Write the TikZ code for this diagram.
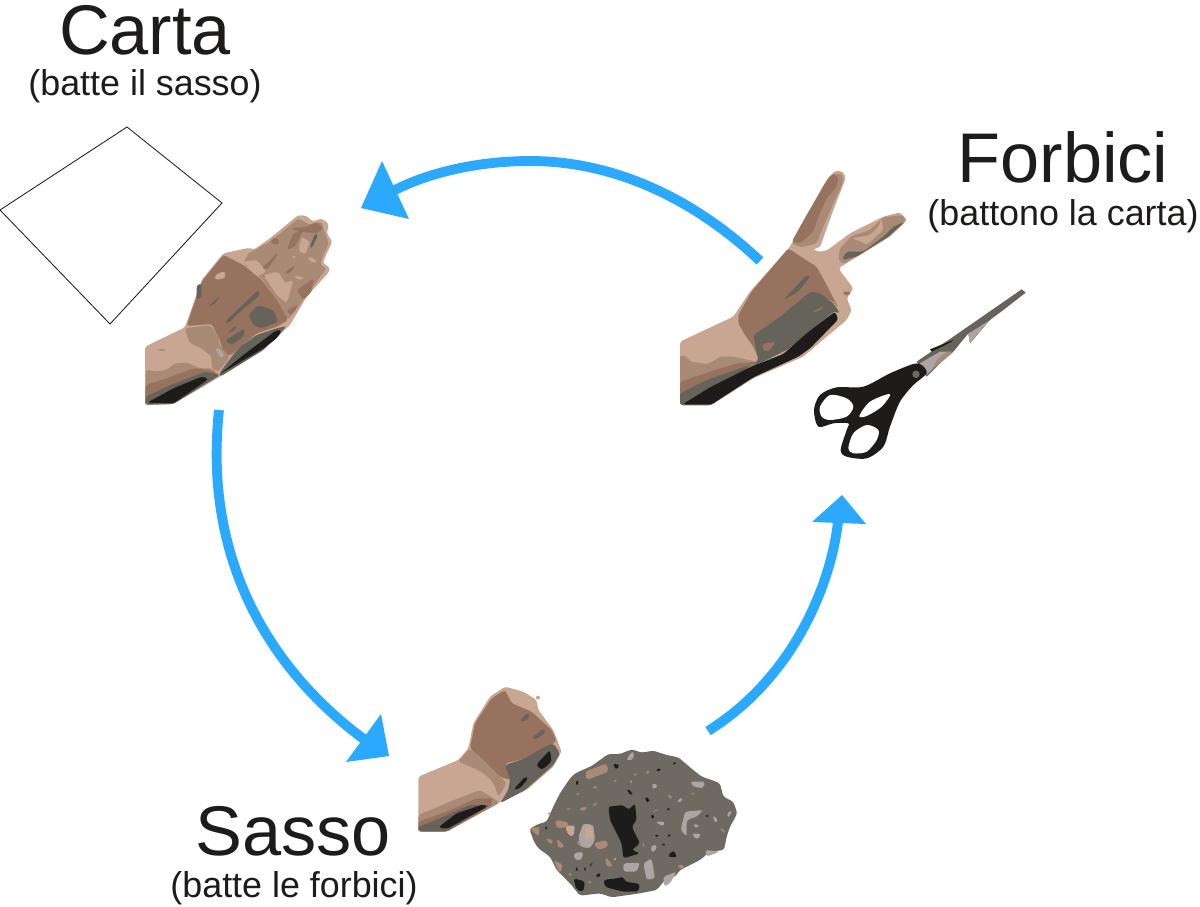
\documentclass[tikz,border=0pt]{standalone}
\usepackage{fontspec}
\setmainfont{Liberation Sans}
\definecolor{skinL}{HTML}{C9A692}
\definecolor{skinM}{HTML}{A98A76}
\definecolor{skinD}{HTML}{97735F}
\definecolor{greyD}{HTML}{66635A}
\definecolor{blackD}{HTML}{1D1C1A}
\definecolor{stoneG}{HTML}{6E6A61}
\definecolor{paleG}{HTML}{ACA5A4}
\definecolor{cycleB}{HTML}{2AA9FF}
\newcommand\blob[2]{\fill[#1] plot[smooth cycle,tension=.5] coordinates {#2};}
\newcommand\poly[2]{\fill[#1,rounded corners=2pt] plot[sharp cycle] coordinates {#2};}
\tikzset{
  titletext/.style={font=\fontsize{50}{50}\selectfont,text=blackD,inner sep=0pt,anchor=center},
  subtext/.style={font=\fontsize{25.5}{26}\selectfont,text=blackD,inner sep=0pt,anchor=center},
  cycleshaft/.style={draw=cycleB,line width=7pt},
  cyclehead/.style={fill=cycleB},
  paper/.style={draw=blackD,line width=0.6pt,fill=white,line join=miter}
}
\begin{document}
\begin{tikzpicture}[x=0.025cm,y=-0.025cm]
\useasboundingbox (0,0) rectangle (1200,906);

% texts
\node[titletext] (carta) at (145,30) {Carta};
\node[subtext] (cartasub) at (145,86) {(batte il sasso)};
\node[titletext] (forbici) at (1063,157) {Forbici};
\node[subtext] (forbicisub) at (1063,216) {(battono la carta)};
\node[titletext] (sasso) at (293,831) {Sasso};
\node[subtext] (sassosub) at (294,888) {(batte le forbici)};

% paper
\draw[paper] (127,127) coordinate (p1) -- (222,203) coordinate (p2) -- (110,324) coordinate (p3) -- (0,210) coordinate (p4) -- cycle;

% connectors
\coordinate (a1s) at (760,261);
\coordinate (a1m) at (530,161);
\coordinate (a1b) at (395,190);
\coordinate (a1x) at (382,161);
\coordinate (a1y) at (409,219);
\coordinate (a1t) at (361,208);
\coordinate (a2s) at (219,410);
\coordinate (a2b) at (365,740);
\coordinate (a2x) at (381,714);
\coordinate (a2y) at (346,762);
\coordinate (a2t) at (389,756);
\coordinate (a3s) at (708,731);
\coordinate (a3b) at (838,522);
\coordinate (a3x) at (812,522);
\coordinate (a3y) at (866,524);
\coordinate (a3t) at (842,495);
\draw[cycleshaft] (a1s) .. controls (690,195) and (610,161) .. (a1m) .. controls (480,161) and (430,172) .. (a1b);
\fill[cyclehead] (a1x) -- (a1t) -- (a1y) -- cycle;
\draw[cycleshaft] (a2s) .. controls (203,560) and (270,670) .. (a2b);
\fill[cyclehead] (a2x) -- (a2t) -- (a2y) -- cycle;
\draw[cycleshaft] (a3s) .. controls (790,680) and (830,590) .. (a3b);
\fill[cyclehead] (a3x) -- (a3t) -- (a3y) -- cycle;

% open hand
\begin{scope}[shift={(130,200)},scale=1/3]
\poly{skinL}{(45,440)(165,382)(215,240)(280,160)(360,143)(370,150)(420,115)(505,45)(530,48)(548,65)(575,55)(597,72)(590,100)(607,125)(588,165)(578,190)(598,200)(598,215)(530,290)(480,375)(400,450)(270,530)(130,612)(45,615)}
\poly{skinM}{(355,160)(420,125)(505,55)(540,75)(575,65)(585,100)(597,128)(578,170)(570,195)(590,205)(530,285)(475,360)(440,300)(395,235)(340,190)}
\poly{skinD}{(170,378)(215,245)(280,165)(300,175)(340,195)(395,240)(440,300)(475,360)(440,380)(380,400)(330,440)(305,465)(280,465)(270,420)(245,372)}
\poly{skinM}{(165,385)(240,375)(265,410)(270,440)(300,470)(265,515)(245,505)(245,470)(215,445)(180,430)(170,405)}
\poly{skinL}{(340,185)(380,180)(410,215)(380,230)}
\poly{skinL}{(400,225)(445,215)(465,250)(490,240)(470,310)(440,285)}
\poly{skinL}{(515,110)(540,125)(525,165)(505,150)}
\poly{skinL}{(535,170)(560,180)(555,190)(535,180)}
\poly{skinL}{(490,225)(525,235)(505,240)}
\poly{skinL}{(485,165)(500,170)(490,178)}
\poly{skinD}{(480,85)(530,80)(560,65)(580,85)(560,100)(510,95)}
\poly{skinD}{(420,120)(440,110)(450,130)(430,135)}
\poly{skinD}{(490,100)(520,90)(495,140)(470,150)}
\poly{skinD}{(500,270)(550,235)(545,275)(520,300)}
\poly{skinD}{(470,330)(505,315)(490,340)(475,345)}
\poly{skinD}{(395,205)(445,155)(440,170)(410,210)}
\poly{skinD}{(465,215)(495,195)(490,210)(470,225)}
\poly{greyD}{(555,100)(565,105)(545,145)(540,140)}
\poly{greyD}{(285,365)(385,270)(390,285)(330,335)(295,370)}
\poly{greyD}{(235,320)(270,288)(255,312)}
\poly{greyD}{(355,345)(385,315)(430,330)(445,365)(395,385)(370,375)}
\poly{greyD}{(290,400)(320,375)(315,390)}
\poly{greyD}{(285,422)(345,385)(340,410)(305,435)}
\poly{greyD}{(200,255)(215,250)(215,290)(200,300)}
\poly{skinL}{(255,225)(285,212)(285,235)(255,240)}
\poly{paleG}{(255,445)(270,445)(285,470)(270,475)}
\poly{skinM}{(48,510)(60,510)(70,515)(110,510)(135,490)(170,488)(210,505)(245,505)(260,520)(130,612)(45,615)}
\poly{skinD}{(48,555)(110,535)(190,505)(240,510)(270,525)(130,610)(45,615)}
\poly{greyD}{(48,590)(110,560)(225,515)(270,525)(130,612)(48,612)}
\poly{greyD}{(305,470)(330,440)(380,405)(440,385)(470,378)(400,450)(270,530)(268,520)}
\poly{blackD}{(52,608)(130,565)(215,530)(235,535)(225,545)(130,610)}
\poly{blackD}{(270,522)(340,465)(440,390)(456,392)(440,415)(400,445)(290,510)}
\poly{skinM}{(85,448)(105,445)(105,453)(85,453)}
\end{scope}

% V hand
\begin{scope}[shift={(670,160)},scale=1/3]
\poly{skinL}{(30,545)(190,470)(240,395)(360,260)(420,150)(470,60)(495,32)(520,35)(527,55)(490,150)(450,262)(428,268)(445,275)(470,272)(540,220)(640,170)(690,157)(712,180)(660,230)(505,325)(520,345)(550,385)(530,415)(545,450)(530,480)(470,530)(400,590)(250,655)(125,735)(30,735)}
\poly{skinM}{(365,250)(420,150)(480,45)(515,40)(520,65)(490,130)(460,200)(440,250)(395,262)}
\poly{skinD}{(365,245)(410,165)(465,70)(490,40)(505,50)(500,80)(470,115)(445,170)(430,215)(390,250)}
\poly{skinM}{(505,300)(510,265)(545,228)(600,210)(640,172)(695,165)(708,180)(655,228)(520,312)}
\poly{skinL}{(545,235)(600,225)(625,200)(635,175)(640,210)(590,255)(575,245)}
\poly{greyD}{(515,300)(530,275)(580,275)(640,230)(670,200)(705,185)(655,230)(560,290)}
\poly{skinD}{(205,465)(245,395)(355,265)(385,285)(440,320)(470,375)(505,445)(490,425)(420,395)(330,470)(250,525)(265,595)(250,560)(225,525)(205,490)}
\poly{greyD}{(250,525)(330,470)(420,395)(450,400)(490,430)(510,460)(490,455)(410,525)(350,570)(240,625)(265,600)}
\poly{greyD}{(340,420)(410,345)(420,350)(385,395)}
\poly{skinD}{(335,340)(350,345)(340,352)}
\poly{skinD}{(275,552)(318,545)(295,575)(280,572)}
\poly{skinD}{(425,455)(465,437)(445,455)}
\poly{skinD}{(515,395)(545,395)(530,410)}
\poly{skinM}{(30,585)(50,590)(60,605)(115,612)(150,590)(190,590)(235,600)(262,605)(200,630)(125,735)(30,735)}
\poly{skinD}{(30,665)(120,635)(200,610)(262,605)(240,630)(125,735)(30,735)}
\poly{greyD}{(30,700)(110,660)(240,615)(125,735)(30,735)}
\poly{blackD}{(38,733)(120,682)(240,622)(340,582)(410,520)(495,455)(505,478)(420,565)(385,590)(250,652)(125,733)}
\end{scope}

% scissors
\begin{scope}[shift={(670,160)},scale=1/3]
\fill[greyD] (740,605) -- (850,530) -- (1055,388) -- (1067,398) -- (1000,450) -- (960,480) -- (900,550) -- (895,520) -- (850,575) -- (820,600) -- (770,650) -- cycle;
\fill[paleG] (750,610) -- (810,575) -- (845,575) -- (815,600) -- (770,645) -- cycle;
\fill[skinM] (800,600) -- (830,575) -- (848,578) -- (810,610) -- (785,630) -- cycle;
\fill[paleG] (905,515) -- (960,480) -- (900,548) -- (895,520) -- cycle;
\fill[blackD] (780,568) -- (850,540) -- (845,545) -- (785,575) -- cycle;
\blob{blackD}{(730,612)(755,615)(770,640)(730,675)(690,725)(660,800)(640,860)(590,895)(530,890)(512,870)(530,810)(535,790)(490,790)(445,800)(432,750)(450,705)(500,682)(580,680)(660,640)}
\blob{white}{(450,740)(480,705)(530,715)(550,740)(530,770)(480,780)(455,770)}
\blob{white}{(535,865)(550,820)(590,795)(625,810)(620,840)(590,875)(550,880)}
\blob{white}{(568,768)(600,725)(660,702)(635,740)(590,768)}
\fill[stoneG] (738,643) circle (11);
\end{scope}

% fist
\begin{scope}[shift={(410,680)},scale=1/3]
\poly{skinL}{(25,290)(145,240)(175,205)(190,130)(240,50)(285,20)(340,35)(380,60)(385,90)(430,150)(455,215)(430,260)(350,330)(250,375)(110,455)(25,455)}
\fill[skinL] (384,53) circle (6);
\poly{skinD}{(180,205)(195,130)(245,55)(285,30)(305,70)(365,95)(425,150)(440,185)(410,200)(345,235)(285,250)(300,300)(270,290)(245,265)(215,235)}
\poly{skinM}{(145,245)(180,205)(215,235)(245,265)(290,310)(265,350)(255,320)(240,295)(205,270)}
\poly{greyD}{(285,255)(345,235)(405,200)(430,190)(450,220)(430,255)(345,330)(270,370)(295,330)(300,300)}
\poly{blackD}{(378,255)(420,210)(425,245)(395,270)}
\poly{blackD}{(310,330)(345,290)(355,295)(330,325)}
\poly{greyD}{(330,120)(355,97)(360,110)(340,127)}
\poly{greyD}{(365,175)(400,145)(408,155)(380,178)}
\poly{skinM}{(25,405)(120,365)(210,330)(250,355)(270,368)(110,455)(25,455)}
\poly{skinD}{(25,425)(110,395)(200,355)(250,355)(240,380)(110,455)(25,455)}
\poly{greyD}{(25,440)(90,415)(180,375)(240,375)(110,453)(25,453)}
\poly{blackD}{(85,442)(140,400)(220,373)(232,380)(110,447)}
\end{scope}

% stone
\begin{scope}[shift={(410,680)},scale=1/3]
\poly{stoneG}{(358,447)(385,432)(410,425)(432,375)(450,340)(480,295)(495,280)(545,258)(595,222)(630,222)(665,208)(695,218)(730,212)(770,225)(805,232)(840,262)(875,290)(905,300)(930,310)(940,350)(970,365)(982,400)(960,440)(950,470)(942,510)(900,515)(870,540)(810,570)(795,590)(765,600)(740,630)(690,640)(605,652)(570,640)(510,647)(480,610)(440,570)(420,530)(385,505)(372,485)}
\poly{blackD}{(595,380)(640,375)(655,390)(675,370)(680,420)(665,440)(690,490)(665,510)(690,520)(640,535)(635,490)(610,440)(600,420)}
\poly{skinM}{(525,275)(590,250)(595,275)(530,300)}
\poly{skinM}{(360,445)(390,440)(385,470)}
\poly{skinM}{(405,475)(430,480)(425,495)}
\poly{skinM}{(435,420)(470,425)(480,440)(440,445)}
\poly{skinM}{(440,475)(465,500)(445,505)}
\poly{skinM}{(430,540)(460,555)(450,580)}
\poly{skinM}{(505,385)(535,380)(520,395)}
\poly{skinL}{(465,440)(495,435)(490,470)(475,465)}
\poly{paleG}{(520,430)(550,435)(555,480)(540,505)(510,500)(505,470)}
\poly{skinL}{(525,435)(545,440)(550,470)(525,480)}
\poly{skinM}{(550,490)(590,480)(595,500)(565,510)}
\poly{paleG}{(490,520)(520,515)(515,540)(495,540)}
\poly{skinM}{(585,530)(600,545)(610,560)(590,560)}
\poly{paleG}{(640,550)(690,548)(680,575)(640,575)}
\poly{paleG}{(700,550)(725,535)(735,595)(710,600)}
\poly{paleG}{(760,590)(800,575)(780,610)(762,620)}
\poly{paleG}{(825,395)(880,390)(860,410)(830,420)(830,470)(812,450)}
\poly{paleG}{(845,460)(875,462)(860,480)}
\poly{paleG}{(850,430)(870,438)(855,445)}
\poly{paleG}{(840,305)(885,305)(880,325)(850,320)}
\poly{paleG}{(908,405)(925,420)(915,430)}
\poly{paleG}{(950,400)(967,390)(955,415)}
\poly{paleG}{(885,510)(930,515)(890,530)}
\poly{paleG}{(725,495)(742,495)(735,515)(722,515)}
\poly{paleG}{(650,235)(670,212)(672,235)(655,243)}
\poly{paleG}{(725,310)(745,315)(730,330)}
\poly{paleG}{(800,360)(820,352)(810,370)}
\poly{skinM}{(770,345)(785,345)(785,360)}
\poly{skinM}{(705,275)(720,270)(715,285)}
\poly{skinM}{(735,390)(750,388)(725,398)}
\poly{skinM}{(800,555)(825,555)(815,570)}
\poly{skinM}{(545,320)(565,318)(555,328)}
\poly{skinM}{(495,340)(510,338)(505,348)}
\poly{skinM}{(545,375)(565,365)(555,378)}
\poly{skinM}{(670,280)(680,282)(675,288)}
\poly{skinM}{(610,300)(622,298)(615,308)}
\poly{skinM}{(470,385)(485,383)(475,392)}
\poly{skinM}{(410,400)(425,395)(420,405)}
\poly{skinM}{(500,480)(515,490)(505,500)}
\poly{skinM}{(840,340)(855,338)(848,345)}
\poly{skinM}{(930,440)(950,460)(935,455)}
\poly{skinM}{(695,490)(705,490)(702,505)}
\poly{paleG}{(735,425)(765,425)(760,440)}
\poly{blackD}{(608,250)(630,255)(618,270)}
\poly{blackD}{(735,272)(750,262)(752,275)}
\poly{blackD}{(785,250)(800,245)(795,255)}
\poly{blackD}{(495,305)(507,300)(502,320)}
\poly{blackD}{(650,325)(665,335)(668,347)(655,340)}
\poly{blackD}{(705,350)(718,355)(718,368)(707,365)}
\poly{blackD}{(595,378)(605,385)(603,392)}
\poly{blackD}{(720,405)(735,405)(728,420)}
\poly{blackD}{(770,385)(780,385)(775,393)}
\poly{blackD}{(885,405)(898,405)(893,413)}
\poly{blackD}{(770,465)(785,462)(778,472)}
\poly{blackD}{(735,465)(745,465)(740,472)}
\poly{blackD}{(755,492)(768,490)(760,498)}
\poly{blackD}{(772,530)(790,510)(802,532)}
\poly{blackD}{(490,595)(510,600)(525,605)(520,635)(500,630)}
\poly{blackD}{(580,600)(620,595)(640,590)(645,605)(690,612)(685,635)(640,635)(600,625)(585,620)}
\poly{blackD}{(555,585)(575,578)(565,595)}
\poly{blackD}{(520,565)(530,560)(525,575)}
\poly{blackD}{(495,565)(505,560)(500,578)}
\poly{blackD}{(540,552)(546,550)(542,562)}
\poly{blackD}{(405,442)(412,440)(408,450)}
\poly{paleG}{(532,605)(545,603)(540,612)}
\poly{paleG}{(475,580)(485,580)(480,590)}
\poly{paleG}{(660,300)(668,305)(660,312)}
\poly{paleG}{(610,535)(620,533)(615,543)}
\end{scope}
\end{tikzpicture}
\end{document}
